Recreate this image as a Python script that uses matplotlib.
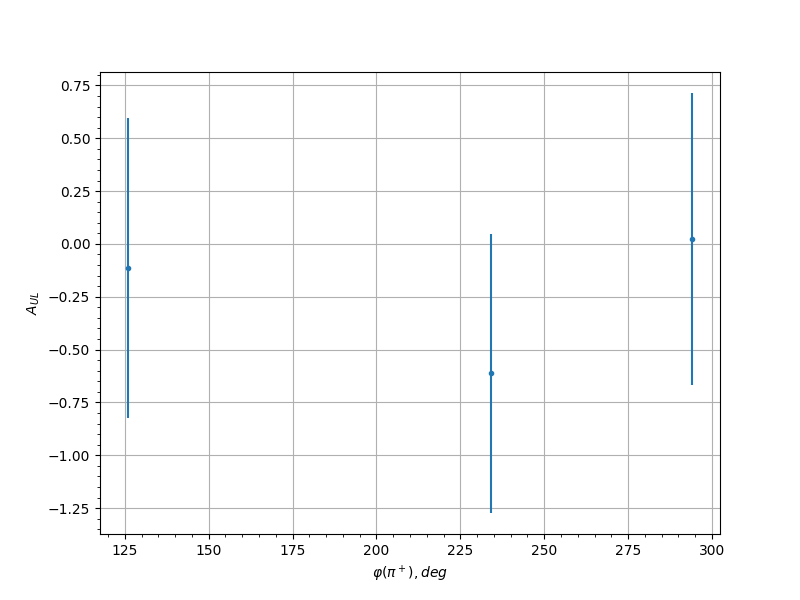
import matplotlib
matplotlib.use("Agg")
import matplotlib.pyplot as plt

phi = [126, 234, 294]
a_ul = [-0.115, -0.613, 0.024]
a_err = [0.71, 0.66, 0.69]

fig, ax = plt.subplots(figsize=(8, 6), dpi=100)
ax.errorbar(phi, a_ul, yerr=a_err, fmt='.')
ax.set_xlabel(r'$\varphi(\pi^+), deg$')
ax.set_ylabel(r'$A_{UL}$')
ax.minorticks_on()
ax.grid(True, which='major')
fig.savefig('out.png')
